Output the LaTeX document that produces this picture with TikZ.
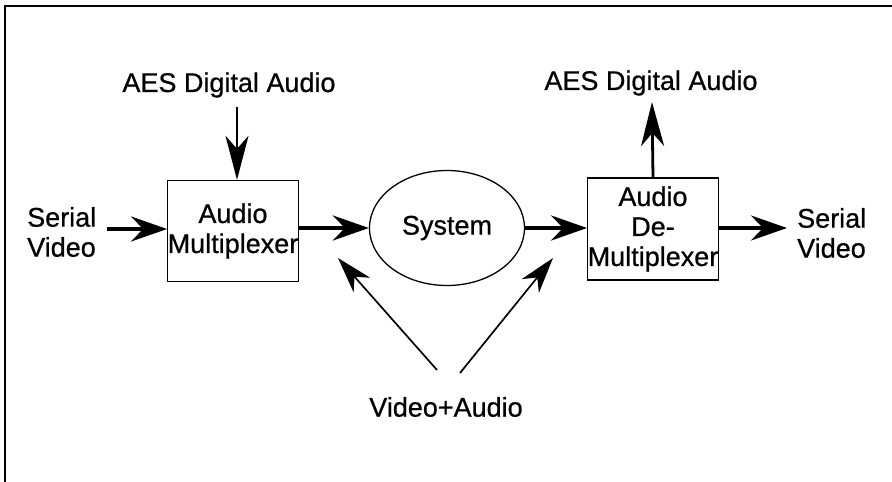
\documentclass[tikz,border=0pt]{standalone}
\usepackage{fontspec}
\setmainfont[FakeBold=0.7]{Liberation Sans}
\usetikzlibrary{arrows.meta, shapes.geometric}

\tikzset{
  lbl/.style={font=\fontsize{27}{30}\selectfont, align=center, inner sep=0pt},
  blockbox/.style={draw, line width=1.3pt, minimum width=130pt, minimum height=101pt,
    inner sep=0pt, font=\fontsize{27}{30}\selectfont, align=center},
  bigarrow/.style={line width=3.8pt, -{Stealth[length=36pt, width=25pt, inset=12pt]}},
  midarrow/.style={line width=2.8pt, -{Stealth[length=44pt, width=23pt, inset=13pt]}},
  thinarrow/.style={line width=1.7pt, -{Stealth[length=36pt, width=22pt, inset=11pt]}}
}

\begin{document}
\begin{tikzpicture}[x=1pt, y=-1pt]
  \useasboundingbox (0,0) rectangle (892,482);
  % frame
  \draw[line width=2pt] (5,482) -- (5,6) -- (892,6);

  % left side
  \node[lbl] (aesin) at (229,85) {AES Digital Audio};
  \node[lbl, align=left, anchor=west] (svin) at (27,232) {Serial\\Video};
  \node[blockbox] (mux) at (233,231) {Audio\\Multiplexer};

  % system
  \node[draw, ellipse, line width=1.3pt, minimum width=155pt, minimum height=115pt,
    lbl] (sys) at (447,228) {System};

  % right side
  \node[blockbox, minimum width=128pt, minimum height=102pt] (demux) at (653,229)
    {Audio\\De-\\Multiplexer};
  \node[lbl] (aesout) at (651,83) {AES Digital Audio};
  \node[lbl, align=left, anchor=west] (svout) at (797,233) {Serial\\Video};

  % free ends
  \coordinate (aesinEnd) at (237,107);
  \coordinate (svinEnd) at (107,229);
  \coordinate (aesoutEnd) at (652,102);
  \coordinate (svoutEnd) at (787,228);

  % video+audio feed
  \node[lbl] (va) at (446,407) {Video+Audio};
  \coordinate (vaL) at (437,370);
  \coordinate (vaR) at (460,373);
  \coordinate (tipL) at (338,258);
  \coordinate (tipR) at (553,258);

  % connectors
  \draw[midarrow] (aesinEnd) -- (aesinEnd |- mux.north);
  \draw[bigarrow] (svinEnd) -- (svinEnd -| mux.west);
  \draw[bigarrow] (mux.east |- sys.west) -- (sys.west);
  \draw[bigarrow] (sys.east) -- (sys.east -| demux.west);
  \draw[midarrow] (demux.north) -- (aesoutEnd);
  \draw[bigarrow] (svoutEnd -| demux.east) -- (svoutEnd);
  \draw[thinarrow] (vaL) -- (tipL);
  \draw[thinarrow] (vaR) -- (tipR);
\end{tikzpicture}
\end{document}
